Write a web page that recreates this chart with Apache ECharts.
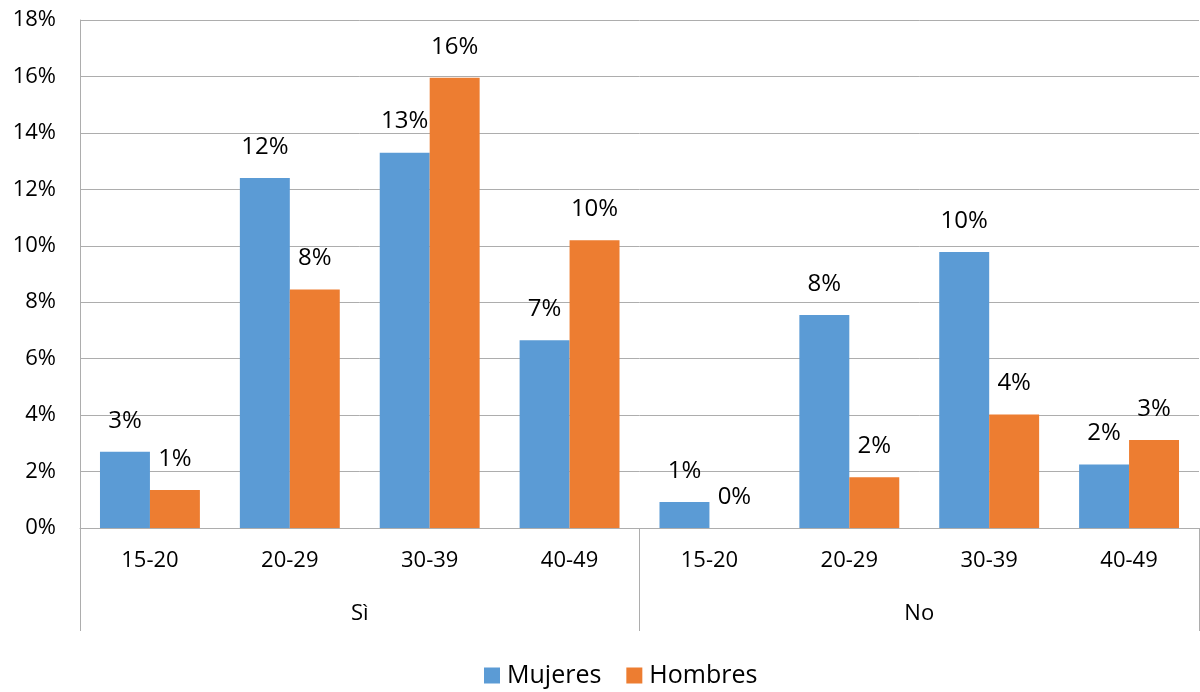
<!DOCTYPE html>
<html>
<head>
<meta charset="utf-8">
<script src="https://cdn.jsdelivr.net/npm/echarts@6/dist/echarts.min.js"></script>
<style>html,body{margin:0;padding:0;background:#fff;}#c{width:1200px;height:692px;}</style>
</head>
<body>
<div id="c"></div>
<script>
var ageGroups = ['15-20', '20-29', '30-39', '40-49', '15-20', '20-29', '30-39', '40-49'];
var topGroups = ['Sì', 'No'];
var mujeres = [2.7, 12.4, 13.3, 6.65, 0.92, 7.55, 9.78, 2.25];
var hombres = [1.35, 8.45, 15.95, 10.2, 0, 1.8, 4.02, 3.12];
var yTicks = {min: 0, max: 18, interval: 2};

var font = '"Open Sans", "Liberation Sans", sans-serif';
var chart = echarts.init(document.getElementById('c'), null, {renderer: 'canvas'});
var gray = '#ADADAD';
var labelCfg = {
  show: true, position: 'top', distance: 19,
  fontFamily: font, fontSize: 24, color: '#000',
  formatter: function (p) { return Math.round(p.value) + '%'; }
};
chart.setOption({
  animation: false,
  textStyle: {fontFamily: font},
  grid: {left: 80, right: 1, top: 20, bottom: 164, containLabel: false},
  legend: {
    data: ['Mujeres', 'Hombres'], top: 658, left: 479,
    icon: 'rect', itemWidth: 16, itemHeight: 16, itemGap: 25,
    textStyle: {fontFamily: font, fontSize: 25, color: '#000', padding: [0, 0, 0, 2]}
  },
  xAxis: [{
    type: 'category', data: ageGroups, position: 'bottom',
    axisLine: {show: true, lineStyle: {color: gray, width: 1}},
    axisTick: {show: false},
    axisLabel: {interval: 0, margin: 22, fontFamily: font, fontSize: 22, color: '#000'}
  }, {
    type: 'category', data: topGroups, position: 'bottom',
    axisLine: {show: false},
    axisTick: {show: true, length: 103, interval: 0, lineStyle: {color: gray, width: 1}},
    axisLabel: {interval: 0, margin: 75, fontFamily: font, fontSize: 22, color: '#000'},
    splitLine: {show: false}
  }],
  yAxis: {
    type: 'value', min: yTicks.min, max: yTicks.max, interval: yTicks.interval,
    axisLine: {show: true, lineStyle: {color: gray, width: 1}},
    axisTick: {show: false},
    axisLabel: {margin: 24, fontFamily: font, fontSize: 22, color: '#000', formatter: '{value}%'},
    splitLine: {show: true, lineStyle: {color: gray, width: 1}}
  },
  series: [{
    name: 'Mujeres', type: 'bar', data: mujeres, xAxisIndex: 0,
    barGap: '0%', barCategoryGap: '28.57%',
    itemStyle: {color: '#5B9BD5'}, label: labelCfg
  }, {
    name: 'Hombres', type: 'bar', data: hombres, xAxisIndex: 0,
    barGap: '0%', barCategoryGap: '28.57%',
    itemStyle: {color: '#ED7D31'}, label: labelCfg
  }]
});
</script>
</body>
</html>
